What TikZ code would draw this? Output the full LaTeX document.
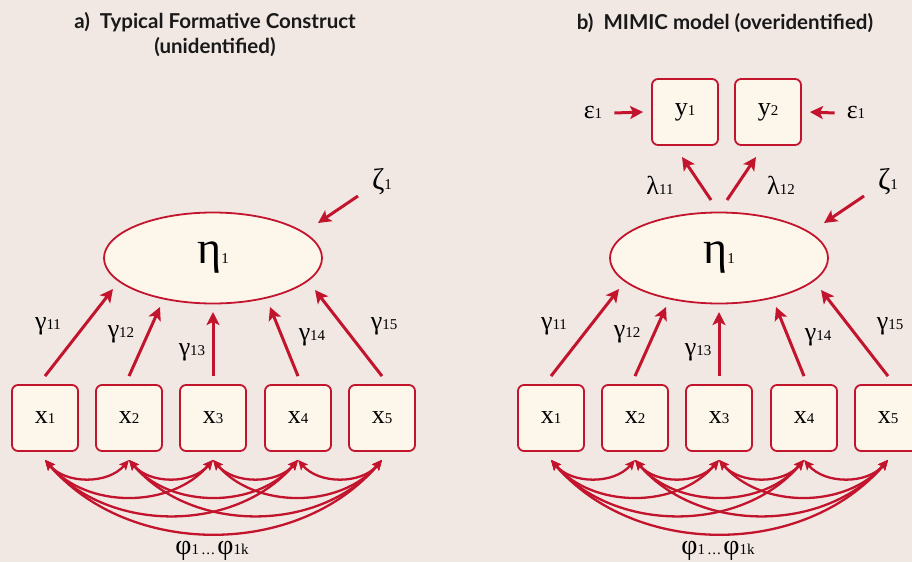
\documentclass[tikz,border=0pt]{standalone}
\usepackage{fontspec}
\setmainfont{Liberation Serif}
\newfontfamily\titlefont{Lato}
\usetikzlibrary{arrows.meta,calc,shapes.geometric}
\definecolor{bgc}{HTML}{F1E8E4}
\definecolor{fillc}{HTML}{FDF6EB}
\definecolor{redc}{HTML}{C3142D}
\newcommand{\sbs}[1]{{\fontsize{15}{15}\selectfont #1}}
\newcommand{\bigfont}{\fontsize{26}{26}\selectfont}
\newcommand{\drawpanel}{%
  \node[lat] (eta) at (213,258) {\fontsize{46}{46}\selectfont η\sbs{1}};
  \foreach \i/\x in {1/45,2/129,3/213,4/298,5/382}{
    \node[obs] (x\i) at (\x,418) {x\sbs{\i}};
    \coordinate (t\i) at ([yshift=8pt]x\i.north);
    \coordinate (c\i) at ([yshift=-8pt]x\i.south);
  }
  \draw[arr] (t1) -- ($(eta)+(-100,31)$);
  \draw[arr] (t2) -- ($(eta)+(-53,49)$);
  \draw[arr] (t3) -- ($(eta)+(0,54)$);
  \draw[arr] (t4) -- ($(eta)+(57,49)$);
  \draw[arr] (t5) -- ($(eta)+(102,32)$);
  \node[lbl] (g11) at (48,326) {γ\sbs{11}};
  \node[lbl] (g12) at (121,334) {γ\sbs{12}};
  \node[lbl] (g13) at (192,352) {γ\sbs{13}};
  \node[lbl] (g14) at (312,337) {γ\sbs{14}};
  \node[lbl] (g15) at (384,326) {γ\sbs{15}};
  \node[lbl,font=\fontsize{30}{30}\selectfont] (zeta) at (382,182) {ζ\sbs{1}};
  \draw[arr] ($(zeta)+(-24,14)$) -- ($(eta)+(105,-35)$);
  \foreach \i in {1,...,4}{
    \pgfmathtruncatemacro\ni{\i+1}
    \foreach \j in {\ni,...,5}{
      \pgfmathsetmacro\dd{\j-\i}
      \draw[cov] (c\i) .. controls +(21*\dd,24.5*\dd) and +(-21*\dd,24.5*\dd) .. (c\j);
    }
  }
  \node[lbl,font=\fontsize{28}{28}\selectfont] (phi) at (212,551) {φ\sbs{1\,.\kern1pt.\kern1pt.\,}φ\sbs{1k}};
}
\begin{document}
\begin{tikzpicture}[x=1pt,y=-1pt,
  obs/.style={draw=redc,fill=fillc,line width=1.8pt,rounded corners=6pt,minimum width=66pt,minimum height=66pt,inner sep=0pt,font=\bigfont},
  lat/.style={ellipse,draw=redc,fill=fillc,line width=1.8pt,minimum width=218pt,minimum height=91pt,inner sep=0pt},
  arr/.style={draw=redc,line width=3pt,-{Stealth[length=13pt,width=13pt,inset=3pt]}},
  cov/.style={draw=redc,line width=2.3pt,{Stealth[length=10pt,width=9pt,inset=2pt]}-{Stealth[length=10pt,width=9pt,inset=2pt]}},
  lbl/.style={inner sep=0pt,font=\bigfont},
  ttl/.style={font=\titlefont\bfseries\fontsize{20.5}{25}\selectfont,align=center,text=black!90}]
\fill[bgc] (0,0) rectangle (912,562);
\useasboundingbox (0,0) rectangle (912,562);
\node[ttl] (ta) at (215,35) {a)\ \ Typical Formative Construct\\(unidentified)};
\node[ttl] (tb) at (725,23) {b)\ \ MIMIC model (overidentified)};
\begin{scope}[name prefix=a-]
  \drawpanel
\end{scope}
\begin{scope}[name prefix=b-,xshift=506pt]
  \drawpanel
  \node[obs] (y1) at (179,112) {y\sbs{1}};
  \node[obs] (y2) at (262,112) {y\sbs{2}};
  \node[lbl] (e1) at (87,113) {ε\sbs{1}};
  \node[lbl] (e2) at (350,113) {ε\sbs{1}};
  \draw[arr] ([xshift=12pt]e1.east) -- ([xshift=-8pt]y1.west);
  \draw[arr] ([xshift=-12pt]e2.west) -- ([xshift=8pt]y2.east);
  \draw[arr] ($(eta)+(-8,-58)$) -- ($(y1)+(-3,45)$);
  \draw[arr] ($(eta)+(8,-58)$) -- ($(y2)+(-12,45)$);
  \node[lbl] (l11) at (154,185) {λ\sbs{11}};
  \node[lbl] (l12) at (275,185) {λ\sbs{12}};
\end{scope}
\end{tikzpicture}
\end{document}
